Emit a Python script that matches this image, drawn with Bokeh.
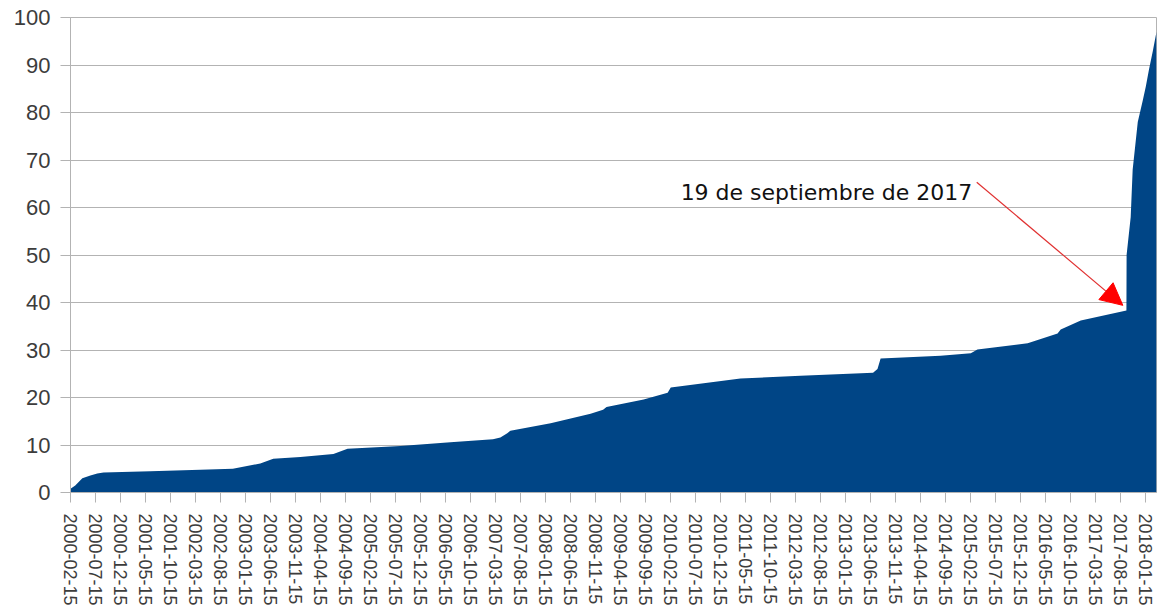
import pandas as pd
from bokeh.plotting import figure
from bokeh.models import Range1d, FixedTicker, DatetimeTickFormatter, Arrow, NormalHead, Label
from bokeh.embed import file_html
from bokeh.resources import INLINE

# ---- data ----
dates = [
    "2000-02-15", "2000-03-15", "2000-04-27", "2000-06-15", "2000-07-27", "2000-09-03",
    "2001-06-15", "2002-04-15", "2002-10-30", "2003-04-15", "2003-07-03", "2003-12-15",
    "2004-07-03", "2004-09-27", "2005-08-15", "2006-06-15", "2007-03-01", "2007-04-15",
    "2007-05-27", "2007-06-15", "2008-02-15", "2008-10-15", "2008-12-30", "2009-01-20",
    "2009-09-03", "2010-01-27", "2010-02-15", "2011-04-15", "2012-04-15", "2013-06-30",
    "2013-07-27", "2013-08-15", "2014-08-15", "2015-02-15", "2015-03-27", "2016-01-27",
    "2016-07-27", "2016-08-15", "2016-12-15", "2017-09-19", "2017-09-20", "2017-10-15",
    "2017-10-27", "2017-11-27", "2017-12-27", "2018-01-15", "2018-02-03", "2018-02-27",
    "2018-03-21",
]
values = [
    0.8, 1.5, 3.0, 3.6, 4.0, 4.2,
    4.5, 4.8, 5.0, 6.1, 7.1, 7.5,
    8.1, 9.2, 9.8, 10.6, 11.2, 11.6,
    12.5, 13.0, 14.6, 16.6, 17.4, 18.0,
    19.6, 21.0, 22.1, 24.0, 24.6, 25.2,
    26.0, 28.2, 28.8, 29.3, 30.1, 31.4,
    33.5, 34.3, 36.2, 38.3, 50.0, 58.0,
    68.0, 78.0, 82.5, 85.5, 89.0, 93.0,
    97.0,
]
tick_labels = [
    "2000-02-15", "2000-07-15", "2000-12-15", "2001-05-15", "2001-10-15", "2002-03-15",
    "2002-08-15", "2003-01-15", "2003-06-15", "2003-11-15", "2004-04-15", "2004-09-15",
    "2005-02-15", "2005-07-15", "2005-12-15", "2006-05-15", "2006-10-15", "2007-03-15",
    "2007-08-15", "2008-01-15", "2008-06-15", "2008-11-15", "2009-04-15", "2009-09-15",
    "2010-02-15", "2010-07-15", "2010-12-15", "2011-05-15", "2011-10-15", "2012-03-15",
    "2012-08-15", "2013-01-15", "2013-06-15", "2013-11-15", "2014-04-15", "2014-09-15",
    "2015-02-15", "2015-07-15", "2015-12-15", "2016-05-15", "2016-10-15", "2017-03-15",
    "2017-08-15", "2018-01-15",
]
y_ticks = [0, 10, 20, 30, 40, 50, 60, 70, 80, 90, 100]

annotation_text = "19 de septiembre de 2017"


def ms(d):
    return pd.Timestamp(d).value / 1e6


x = [ms(d) for d in dates]

p = figure(
    width=1158, height=608,
    x_axis_type="datetime",
    x_range=Range1d(x[0], x[-1]),
    y_range=Range1d(0, 100),
    output_backend="svg", toolbar_location=None,
    min_border_left=70, min_border_right=2, min_border_top=17, min_border_bottom=116,
    background_fill_color="white", border_fill_color="white",
)
p.outline_line_color = "#b3b3b3"

p.varea(x=x, y1=0, y2=values, fill_color="#004586")

# grid
p.xgrid.visible = False
p.ygrid.grid_line_color = "#b3b3b3"
p.ygrid.grid_line_width = 1
p.ygrid.level = "underlay"

# y axis
p.yaxis.ticker = FixedTicker(ticks=y_ticks)
p.yaxis.axis_line_color = "#b3b3b3"
p.yaxis.major_tick_line_color = "#b3b3b3"
p.yaxis.major_tick_out = 10
p.yaxis.major_tick_in = 0
p.yaxis.minor_tick_line_color = None
p.yaxis.major_label_text_font = "Liberation Sans"
p.yaxis.major_label_text_font_size = "22px"
p.yaxis.major_label_text_color = "#3c3c3c"
p.yaxis.major_label_standoff = 10

# x axis
p.xaxis.ticker = FixedTicker(ticks=[ms(t) for t in tick_labels])
fmt = "%Y-%m-%d"
p.xaxis.formatter = DatetimeTickFormatter(
    milliseconds=fmt, seconds=fmt, minsec=fmt, minutes=fmt, hourmin=fmt,
    hours=fmt, days=fmt, months=fmt, years=fmt,
)
p.xaxis.major_label_orientation = "vertical"
p.xaxis.axis_line_color = "#b3b3b3"
p.xaxis.major_tick_line_color = "#b3b3b3"
p.xaxis.major_tick_out = 10
p.xaxis.major_tick_in = 0
p.xaxis.minor_tick_line_color = None
p.xaxis.major_label_text_font = "Liberation Sans"
p.xaxis.major_label_text_font_size = "18px"
p.xaxis.major_label_text_color = "#3c3c3c"
p.xaxis.major_label_standoff = 11

# annotation
p.add_layout(Label(
    x=ms("2010-04-16"), y=63.2, text=annotation_text,
    text_font="DejaVu Sans", text_font_size="22px", text_color="#111111",
    text_baseline="alphabetic", text_align="left",
))
p.add_layout(Arrow(
    end=NormalHead(size=22, fill_color="#ff0000", line_color="#ff0000", line_width=1),
    x_start=ms("2015-03-23"), y_start=65.3,
    x_end=ms("2017-08-28"), y_end=39.4,
    line_color="#e03030", line_width=1.2,
))

open("out.html", "w").write(file_html(p, INLINE))
